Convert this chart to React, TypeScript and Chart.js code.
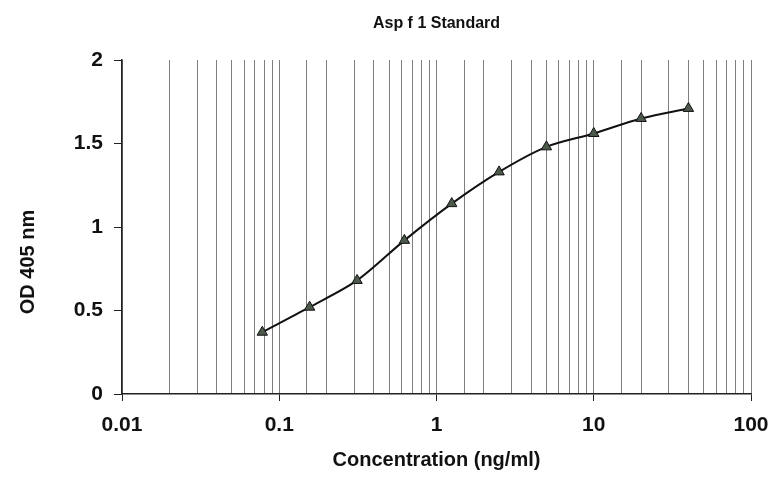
import React, { useEffect, useRef } from "react";
import { Chart, registerables } from "chart.js";

Chart.register(...registerables);

const chartTitle = "Asp f 1 Standard";
const xAxisTitle = "Concentration (ng/ml)";
const yAxisTitle = "OD 405 nm";
const concentrations = [0.078, 0.156, 0.3125, 0.625, 1.25, 2.5, 5, 10, 20, 40];
const odValues = [0.37, 0.52, 0.68, 0.92, 1.14, 1.33, 1.48, 1.56, 1.65, 1.71];
const xMin = 0.01;
const xMax = 100;
const yMin = 0;
const yMax = 2;
const yStep = 0.5;

const FONT = "'Liberation Sans', Arial, sans-serif";

function isDecade(v: number): boolean {
  const l = Math.log10(v);
  return Math.abs(l - Math.round(l)) < 1e-6;
}

function decadeLabel(v: number): string {
  const e = Math.round(Math.log10(v));
  return e < 0 ? Math.pow(10, e).toFixed(-e) : String(Math.pow(10, e));
}

const textPlugin = {
  id: "customTexts",
  afterDraw(chart: any) {
    const { ctx, chartArea } = chart;
    const cx = (chartArea.left + chartArea.right) / 2;
    ctx.save();
    ctx.fillStyle = "#111";
    ctx.textAlign = "center";
    ctx.textBaseline = "alphabetic";
    ctx.font = `bold 16px ${FONT}`;
    ctx.fillText(chartTitle, cx, 28);
    ctx.font = `bold 20px ${FONT}`;
    ctx.fillText(xAxisTitle, cx, 466);
    ctx.translate(34, 262);
    ctx.rotate(-Math.PI / 2);
    ctx.fillText(yAxisTitle, 0, 0);
    ctx.restore();
  },
};

export default function App() {
  const ref = useRef<HTMLCanvasElement | null>(null);
  useEffect(() => {
    if (!ref.current) return;
    const chart = new Chart(ref.current, {
      type: "line",
      data: {
        datasets: [
          {
            data: concentrations.map((x, i) => ({ x, y: odValues[i] })),
            borderColor: "#111",
            borderWidth: 2,
            tension: 0.3,
            pointStyle: "triangle",
            pointRadius: 6,
            pointBackgroundColor: "#4c5a4c",
            pointBorderColor: "#111",
            pointBorderWidth: 1,
            fill: false,
          },
        ],
      },
      plugins: [textPlugin],
      options: {
        animation: false,
        responsive: true,
        maintainAspectRatio: false,
        layout: { padding: { left: 0, right: 24, top: 60, bottom: 0 } },
        plugins: {
          legend: { display: false },
          tooltip: { enabled: false },
          title: { display: false },
        },
        scales: {
          x: {
            type: "logarithmic",
            min: xMin,
            max: xMax,
            afterFit: (s: any) => {
              s.height = 83;
              s.paddingLeft = 0;
              s.paddingRight = 0;
            },
            border: { color: "#222", width: 1.5 },
            grid: {
              color: "#7e7e7e",
              lineWidth: 1,
              tickLength: 7,
              tickColor: (c: any) =>
                c.tick && isDecade(c.tick.value) ? "#222" : "rgba(0,0,0,0)",
            },
            ticks: {
              autoSkip: false,
              maxRotation: 0,
              padding: 12,
              color: "#111",
              font: { family: FONT, size: 21, weight: "bold" },
              callback: (v: any) => (isDecade(Number(v)) ? decadeLabel(Number(v)) : ""),
            },
          },
          y: {
            min: yMin,
            max: yMax,
            afterFit: (s: any) => {
              s.width = 122;
              s.paddingTop = 0;
              s.paddingBottom = 0;
            },
            border: { color: "#222", width: 1.5 },
            grid: {
              drawOnChartArea: false,
              tickLength: 8,
              tickColor: "#222",
            },
            ticks: {
              stepSize: yStep,
              padding: 11,
              color: "#111",
              font: { family: FONT, size: 21, weight: "bold" },
              callback: (v: any) => String(v),
            },
          },
        },
      },
    } as any);
    return () => chart.destroy();
  }, []);
  return (
    <div style={{ position: "absolute", left: 0, top: 0, width: 775, height: 477, background: "#fff" }}>
      <canvas ref={ref} />
    </div>
  );
}
